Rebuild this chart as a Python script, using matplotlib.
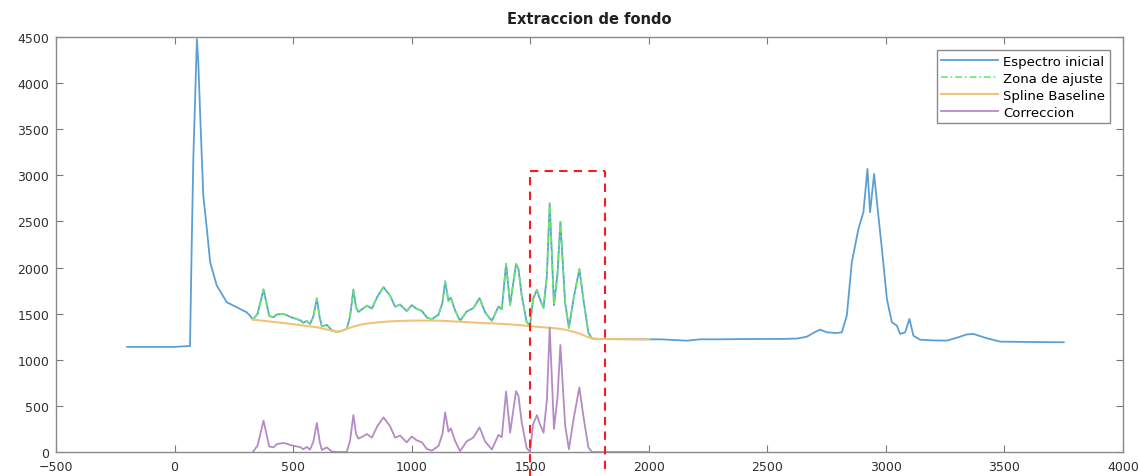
import numpy as np
import matplotlib
matplotlib.use("Agg")
import matplotlib.pyplot as plt

# Raman shift (cm-1) and raw intensity outside the fitting zone
pre_shift = [-200, -100, 0, 65, 72, 79, 94, 100, 107, 121, 136, 150, 178, 220,
             262, 304, 318]
pre_intensity = [1140, 1140, 1140, 1150, 2220, 3180, 4479, 4226, 3720, 2780,
                 2419, 2057, 1804, 1624, 1569, 1515, 1478]

# Fitting zone: shift, raw intensity and spline baseline
zone_shift = [330, 350, 375, 399, 417, 431, 459, 473, 487, 515, 529, 543, 558,
              571, 585, 600, 612, 621, 642, 663, 685, 700, 726, 740, 754, 765,
              775, 795, 811, 832, 855, 881, 909, 930, 951, 979, 1000, 1021,
              1043, 1064, 1085, 1113, 1130, 1141, 1155, 1165, 1183, 1204, 1232,
              1260, 1286, 1310, 1338, 1366, 1380, 1398, 1415, 1440, 1450, 1464,
              1485, 1499, 1512, 1528, 1541, 1556, 1570, 1582, 1600, 1615, 1627,
              1647, 1663, 1682, 1707, 1724, 1745, 1760]
zone_intensity = [1435, 1500, 1763, 1476, 1461, 1492, 1496, 1484, 1466, 1441,
                  1430, 1401, 1421, 1387, 1467, 1667, 1456, 1363, 1378, 1321,
                  1303, 1310, 1335, 1469, 1761, 1568, 1519, 1556, 1587, 1555,
                  1685, 1787, 1694, 1575, 1599, 1528, 1592, 1552, 1530, 1458,
                  1440, 1489, 1622, 1851, 1639, 1675, 1535, 1422, 1524, 1560,
                  1669, 1511, 1422, 1577, 1549, 2041, 1594, 2039, 1987, 1694,
                  1408, 1370, 1662, 1758, 1655, 1562, 1909, 2696, 1592, 1938,
                  2495, 1617, 1347, 1654, 1984, 1657, 1295, 1232]
zone_baseline = [1435, 1430, 1423, 1416, 1411, 1407, 1398, 1394, 1390, 1381,
                 1376, 1371, 1366, 1362, 1357, 1352, 1346, 1341, 1328, 1316,
                 1303, 1310, 1335, 1347, 1360, 1368, 1374, 1386, 1392, 1399,
                 1405, 1411, 1416, 1419, 1421, 1423, 1424, 1425, 1425, 1425,
                 1425, 1424, 1422, 1421, 1419, 1418, 1415, 1412, 1408, 1404,
                 1401, 1398, 1395, 1391, 1389, 1386, 1384, 1379, 1377, 1374,
                 1368, 1365, 1362, 1358, 1355, 1352, 1349, 1346, 1342, 1338,
                 1335, 1327, 1317, 1304, 1284, 1267, 1245, 1232]

# Tail of the baseline beyond the fitting zone (spectrum follows it)
tail_shift = [1770, 1800, 1850, 1900, 1950, 2000]
tail_baseline = [1228, 1225, 1224, 1223, 1222, 1222]

post_shift = [2050, 2100, 2160, 2216, 2300, 2400, 2500, 2560, 2624, 2666, 2700,
              2722, 2751, 2790, 2814, 2835, 2856, 2884, 2905, 2922, 2933, 2950,
              2968, 2983, 3004, 3025, 3046, 3060, 3081, 3099, 3116, 3144, 3200,
              3257, 3300, 3341, 3369, 3426, 3482, 3600, 3750]
post_intensity = [1222, 1215, 1207, 1222, 1222, 1225, 1226, 1226, 1230, 1250,
                  1300, 1327, 1298, 1290, 1298, 1478, 2057, 2419, 2600, 3069,
                  2600, 3015, 2563, 2202, 1659, 1407, 1370, 1280, 1298, 1443,
                  1261, 1218, 1210, 1208, 1240, 1275, 1280, 1233, 1197, 1193,
                  1190]

zone_shift = np.array(zone_shift)
zone_intensity = np.array(zone_intensity)
zone_baseline = np.array(zone_baseline)

spec_x = np.concatenate([pre_shift, zone_shift, tail_shift, post_shift])
spec_y = np.concatenate([pre_intensity, zone_intensity, tail_baseline, post_intensity])

base_x = np.concatenate([zone_shift, tail_shift])
base_y = np.concatenate([zone_baseline, tail_baseline])

corr_y = np.concatenate([zone_intensity - zone_baseline,
                         np.array(tail_baseline) - np.array(tail_baseline)])

fig = plt.figure(figsize=(11.39, 4.77), dpi=100)
ax = fig.add_axes([0.0492, 0.0503, 0.9368, 0.870])

ax.plot(spec_x, spec_y, color="#5b9fd6", lw=1.3, label="Espectro inicial")
ax.plot(zone_shift, zone_intensity, color="#66ea66", lw=1.2,
        ls=(0, (4, 1.8, 1, 1.8)), label="Zona de ajuste")
ax.plot(base_x, base_y, color="#f2c27a", lw=1.5, label="Spline Baseline")
ax.plot(base_x, corr_y, color="#b58bc6", lw=1.3, label="Correccion")

# Highlight box around the main band region
box_left, box_right, box_top = 1500, 1816, 3050
rkw = dict(color="#ff1a1a", lw=1.5, ls=(0, (4, 3)), clip_on=False, zorder=5)
ax.plot([box_left, box_left], [-290, box_top], **rkw)
ax.plot([box_right, box_right], [-180, box_top], **rkw)
ax.plot([box_left, box_right], [box_top, box_top], **rkw)

ax.set_xlim(-500, 4000)
ax.set_ylim(0, 4500)
ax.set_xticks(np.arange(-500, 4001, 500))
ax.set_yticks(np.arange(0, 4501, 500))
ax.tick_params(direction="in", top=True, right=True, length=5, width=0.8,
               color="#7a7a7a", labelsize=9, labelcolor="#303030")
ax.tick_params(axis="x", pad=6)
ax.tick_params(axis="y", pad=5)
for s in ax.spines.values():
    s.set_color("#8a8a8a")
    s.set_linewidth(1.0)

ax.set_title("Extraccion de fondo", fontsize=10.5, fontweight="bold",
             color="#202020", pad=10)

leg = ax.legend(loc="upper right", fontsize=9.5, handlelength=4.3,
                labelspacing=0.3, borderaxespad=1.0, fancybox=False,
                framealpha=1, edgecolor="#8a8a8a", borderpad=0.35,
                handletextpad=0.4)
leg.get_frame().set_linewidth(1.0)

fig.savefig("out.png", dpi=100)
